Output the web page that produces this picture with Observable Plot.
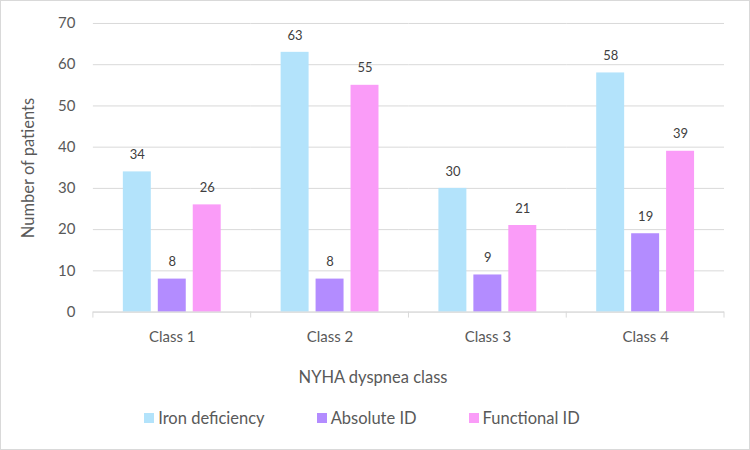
<!DOCTYPE html>
<html><head><meta charset="utf-8">
<script src="https://cdn.jsdelivr.net/npm/d3@7"></script>
<script src="https://cdn.jsdelivr.net/npm/@observablehq/plot@0.6"></script>
<style>
body{margin:0;background:#fff;}
#wrap{position:relative;width:750px;height:450px;box-sizing:border-box;border:1px solid #d9d9d9;font-family:Lato,sans-serif;overflow:hidden;background:#fff}
#chart{position:absolute;left:-1px;top:-1px}
#xtitle{position:absolute;top:366px;left:0;width:744px;text-align:center;font-size:16.5px;color:#595959}
#ytitle{position:absolute;left:27px;top:167px;transform:translate(-50%,-50%) rotate(-90deg);white-space:nowrap;font-size:16.5px;color:#595959}
#legend{position:absolute;top:407px;left:0;width:722px;display:flex;justify-content:center;font-size:16.5px;color:#595959}
#legend .item{display:flex;align-items:center;margin:0 26px}
#legend .sw{width:10px;height:10px;margin-right:4px}
</style></head>
<body>
<div id="wrap"><div id="chart"></div><div id="xtitle"></div><div id="ytitle"></div><div id="legend"></div></div>
<script>
const classes = ["Class 1", "Class 2", "Class 3", "Class 4"];
const series = ["Iron deficiency", "Absolute ID", "Functional ID"];
const ironDeficiency = [34, 63, 30, 58];
const absoluteID = [8, 8, 9, 19];
const functionalID = [26, 55, 21, 39];
const colors = ["#b3e3fb", "#b38cff", "#fa9cf8"];
const yTicks = [0, 10, 20, 30, 40, 50, 60, 70];
const xTitle = "NYHA dyspnea class";
const yTitle = "Number of patients";

const values = [ironDeficiency, absoluteID, functionalID];
const data = [];
classes.forEach((c, i) => series.forEach((s, j) => data.push({cls: c, series: s, value: values[j][i]})));

const plot = Plot.plot({
  width: 750, height: 360,
  marginTop: 23, marginBottom: 48, marginLeft: 92, marginRight: 24,
  style: {fontFamily: "Lato, sans-serif", fontSize: "14px", color: "#595959", background: "transparent"},
  fx: {domain: classes, padding: 0, label: null},
  x: {domain: series, paddingInner: 0.211, paddingOuter: 0.838, axis: null},
  y: {domain: [0, 70], label: null},
  color: {domain: series, range: colors},
  marks: [
    Plot.gridY(yTicks, {stroke: "#d9d9d9", strokeOpacity: 1}),
    Plot.axisY(yTicks, {tickSize: 0, tickPadding: 18, label: null, fontSize: 15}),
    Plot.axisFx({anchor: "bottom", tickSize: 0, tickPadding: 19, label: null, fontSize: 15}),
    Plot.barY(data, {fx: "cls", x: "series", y: "value", fill: "series"}),
    Plot.text(data, {fx: "cls", x: "series", y: "value", text: "value", dy: -17, fill: "#404040", fontSize: 13}),
    Plot.ruleY([0], {stroke: "#d9d9d9"})
  ]
});

// category separators placed from the fx band scale
const fx = plot.scale("fx"), y = plot.scale("y");
const edges = classes.map(c => fx.apply(c)).concat([fx.apply(classes[classes.length - 1]) + fx.bandwidth]);
const y0 = y.apply(0);
d3.select(plot).append("g").selectAll("line").data(edges).join("line")
  .attr("x1", d => d).attr("x2", d => d).attr("y1", y0).attr("y2", y0 + 6)
  .attr("stroke", "#d9d9d9");

document.getElementById("chart").appendChild(plot);
document.getElementById("xtitle").textContent = xTitle;
document.getElementById("ytitle").textContent = yTitle;
const leg = d3.select("#legend");
series.forEach((s, i) => {
  const it = leg.append("div").attr("class", "item");
  it.append("div").attr("class", "sw").style("background", colors[i]);
  it.append("span").text(s);
});
</script>
</body></html>
